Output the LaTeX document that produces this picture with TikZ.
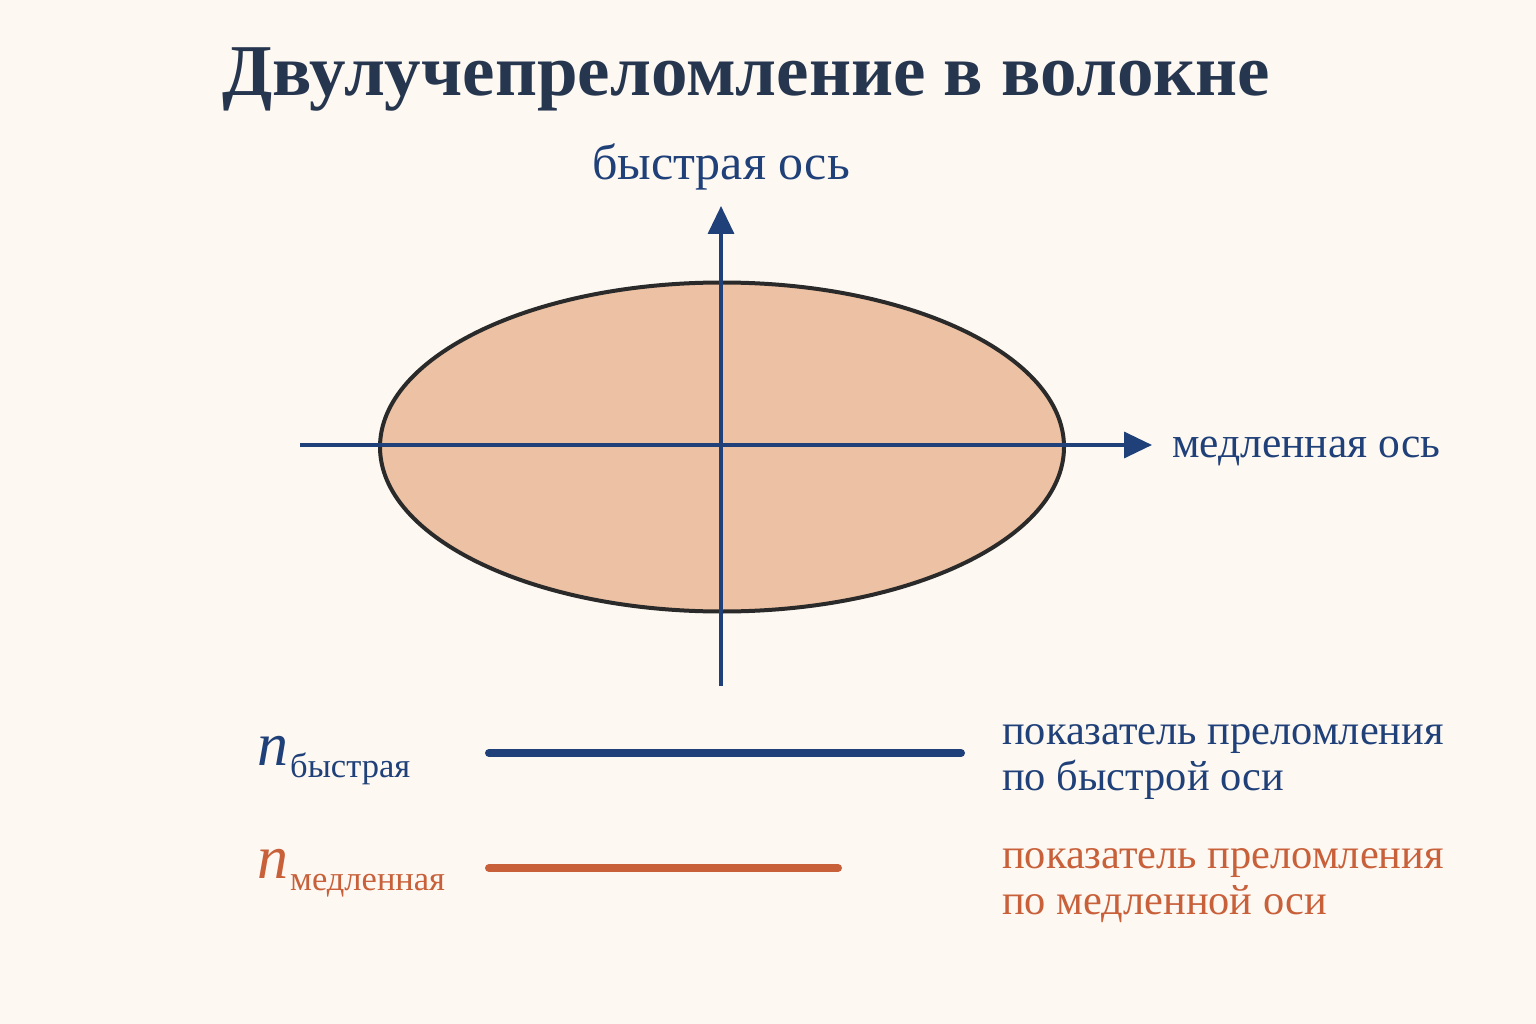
\documentclass[tikz,border=0pt]{standalone}
\usepackage{fontspec}
\setmainfont{Liberation Serif}
\usetikzlibrary{arrows.meta,shapes.geometric}
\definecolor{bgc}{HTML}{FDF8F2}
\definecolor{titlec}{HTML}{26364F}
\definecolor{navy}{HTML}{1F4078}
\definecolor{fillc}{HTML}{EDC1A3}
\definecolor{edgec}{HTML}{2A2A2A}
\definecolor{orangec}{HTML}{C8603A}
\begin{document}
\begin{tikzpicture}[x=1pt,y=1pt,
  lbl/.style={inner sep=0pt,anchor=base west},
  axis/.style={navy,line width=3.5pt,-{Triangle[length=28pt,width=26pt]}},
  legline/.style={line width=8pt,line cap=round}]
\fill[bgc] (0,0) rectangle (1536,-1024);
\useasboundingbox (0,0) rectangle (1536,-1024);
\node[lbl,font=\fontsize{73}{78}\selectfont\bfseries,text=titlec] (title) at (222,-96) {Двулучепреломление в волокне};
\node[draw=edgec,line width=4pt,fill=fillc,ellipse,minimum width=684pt,minimum height=329pt,inner sep=0pt] (ell) at (722,-447) {};
\coordinate (hs) at (300,-445);
\coordinate (he) at (1152,-445);
\coordinate (vs) at (721,-686);
\coordinate (ve) at (721,-206);
\draw[axis] (hs) -- (he);
\draw[axis] (vs) -- (ve);
\node[lbl,font=\fontsize{50}{54}\selectfont,text=navy] (fast) at (592,-180) {быстрая ось};
\node[lbl,font=\fontsize{43.5}{46}\selectfont,text=navy] (slow) at (1172,-457) {медленная ось};
\node[lbl,font=\fontsize{62}{66}\selectfont,text=navy] (nf) at (257,-765) {\textit{n}\hspace{2pt}\raisebox{-12pt}{\fontsize{34.5}{36}\selectfont быстрая}};
\node[lbl,font=\fontsize{62}{66}\selectfont,text=orangec] (ns) at (257,-878) {\textit{n}\hspace{2pt}\raisebox{-12pt}{\fontsize{34.5}{36}\selectfont медленная}};
\coordinate (f1) at (489,-753);
\coordinate (f2) at (961,-753);
\coordinate (s1) at (489,-868);
\coordinate (s2) at (838,-868);
\draw[legline,navy] (f1) -- (f2);
\draw[legline,orangec] (s1) -- (s2);
\node[lbl,font=\fontsize{42.4}{45.5}\selectfont,text=navy,align=left] (ft) at (1002,-790) {показатель преломления\\по быстрой оси};
\node[lbl,font=\fontsize{42.4}{45.5}\selectfont,text=orangec,align=left] (st) at (1002,-914) {показатель преломления\\по медленной оси};
\end{tikzpicture}
\end{document}
